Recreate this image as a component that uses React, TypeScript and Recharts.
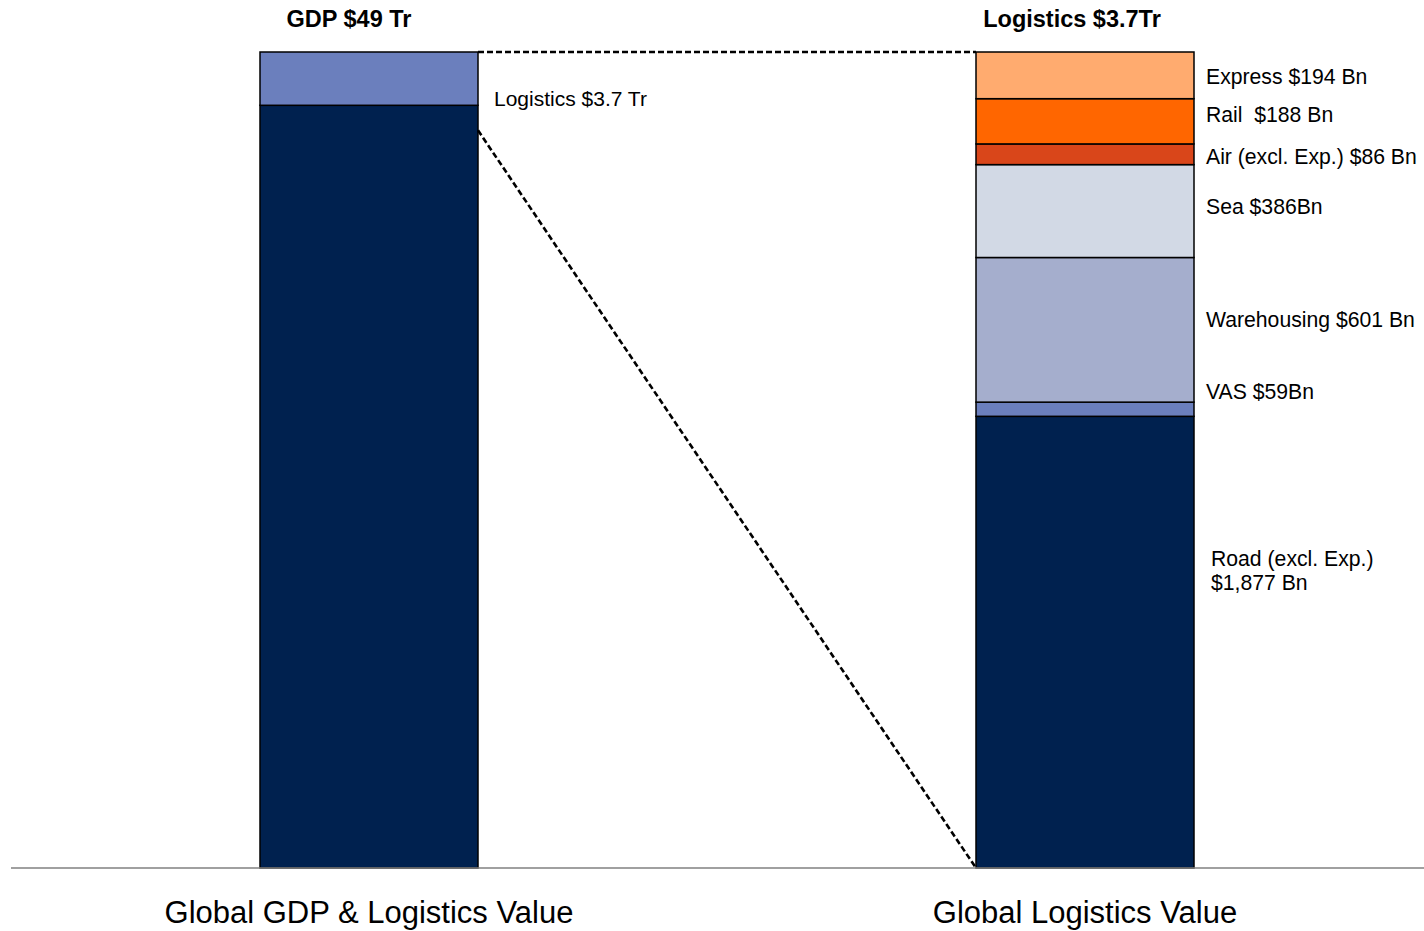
import { BarChart, Bar, XAxis, YAxis } from "recharts";

const CATEGORIES = ["Global GDP & Logistics Value", "Global Logistics Value"];

// left bar in $ Tr, split as drawn in the picture
const GDP_KEYS = ["gdpRest", "gdpLogistics"];
const GDP_VALUES = [45.8, 3.2];

// right bar in $ Bn, bottom to top
const LOGISTICS_KEYS = ["road", "vas", "warehousing", "sea", "air", "rail", "express"];
const LOGISTICS_VALUES = [1877, 59, 601, 386, 86, 188, 194];
const LOGISTICS_LABELS = [
    ["Road (excl. Exp.)", "$1,877 Bn"],
    ["VAS $59Bn"],
    ["Warehousing $601 Bn"],
    ["Sea $386Bn"],
    ["Air (excl. Exp.) $86 Bn"],
    ["Rail  $188 Bn"],
    ["Express $194 Bn"],
];

const TITLES = ["GDP $49 Tr", "Logistics $3.7Tr"];
const GDP_LOGISTICS_LABEL = "Logistics $3.7 Tr";

const COLORS: Record<string, string> = {
    gdpRest: "#00214f",
    gdpLogistics: "#6b7fbd",
    road: "#00214f",
    vas: "#6b7fbd",
    warehousing: "#a5aecd",
    sea: "#d2d9e5",
    air: "#d9461a",
    rail: "#ff6600",
    express: "#ffab6f",
};

// label offsets from segment centre
const LABEL_DY: Record<string, number> = {
    road: -84,
    vas: -18,
    warehousing: -10,
    sea: -5,
    air: 2,
    rail: -7,
    express: 1,
};

const FONT = "Arial, 'Liberation Sans', sans-serif";

const rows = CATEGORIES.map((name, i) => {
    const row: Record<string, string | number> = { name };
    GDP_KEYS.forEach((k, j) => (row[k] = i === 0 ? GDP_VALUES[j] : 0));
    LOGISTICS_KEYS.forEach((k, j) => (row[k] = i === 1 ? LOGISTICS_VALUES[j] : 0));
    return row;
});

// segment boxes of the current render, filled in as the bars draw
const geo: Record<string, { x: number; y: number; w: number; h: number }> = {};

const makeShape = (key: string) => (p: any) => {
    const { x, y, width, height } = p;
    if (!(height > 0.5)) return <g />;
    geo[key] = { x, y, w: width, h: height };
    const cy = y + height / 2;
    const out: any[] = [
        <rect
            key="r"
            x={x}
            y={y}
            width={width}
            height={height}
            fill={COLORS[key]}
            stroke="#000"
            strokeWidth={1.5}
        />,
    ];

    if (key === "gdpLogistics") {
        out.push(
            <text key="l" x={x + width + 16} y={cy + 20} dominantBaseline="central" fontSize={21} fontFamily={FONT} fill="#000">
                {GDP_LOGISTICS_LABEL}
            </text>,
            <text key="t" x={x + width / 2 - 20} y={y - 33} dominantBaseline="central" textAnchor="middle" fontSize={23.5} fontWeight="bold" fontFamily={FONT} fill="#000">
                {TITLES[0]}
            </text>
        );
    }

    const li = LOGISTICS_KEYS.indexOf(key);
    if (li >= 0) {
        const lines = LOGISTICS_LABELS[li];
        const lx = x + width + (key === "road" ? 17 : 12);
        lines.forEach((t, n) =>
            out.push(
                <text key={"s" + n} x={lx} y={cy + LABEL_DY[key] + n * 24} dominantBaseline="central" fontSize={21.2} fontFamily={FONT} fill="#000" style={{ whiteSpace: "pre" }}>
                    {t}
                </text>
            )
        );
    }

    if (key === "express") {
        out.push(
            <text key="t" x={x + width / 2 - 13} y={y - 33} dominantBaseline="central" textAnchor="middle" fontSize={23.5} fontWeight="bold" fontFamily={FONT} fill="#000">
                {TITLES[1]}
            </text>
        );
        const gl = geo.gdpLogistics;
        const road = geo.road;
        if (gl && road) {
            out.push(
                <line key="d1" x1={gl.x + gl.w} y1={gl.y} x2={x} y2={y} stroke="#000" strokeWidth={2.6} strokeDasharray="6 3" />,
                <line key="d2" x1={gl.x + gl.w} y1={gl.y + gl.h + 25} x2={x} y2={road.y + road.h} stroke="#000" strokeWidth={2.6} strokeDasharray="6 3" />
            );
        }
    }
    return <g>{out}</g>;
};

const CategoryTick = (p: any) => (
    <text x={p.x} y={p.y} dy={47} textAnchor="middle" fontSize={31} fontFamily={FONT} fill="#000">
        {p.payload.value}
    </text>
);

const App = () => {
    return (
        <div style={{ position: "absolute", left: 0, top: 0, width: 1424, height: 931, overflow: "hidden" }}>
            <BarChart
                width={1450}
                height={931}
                data={rows}
                stackOffset="expand"
                barSize={218}
                margin={{ top: 52, right: 7, left: 11, bottom: 3 }}
            >
                <XAxis
                    dataKey="name"
                    axisLine={{ stroke: "#808080", strokeWidth: 1.5 }}
                    tickLine={false}
                    interval={0}
                    height={60}
                    tick={<CategoryTick />}
                />
                <YAxis hide />
                {GDP_KEYS.map((k) => (
                    <Bar key={k} dataKey={k} stackId="a" fill={COLORS[k]} shape={makeShape(k)} isAnimationActive={false} />
                ))}
                {LOGISTICS_KEYS.map((k) => (
                    <Bar key={k} dataKey={k} stackId="a" fill={COLORS[k]} shape={makeShape(k)} isAnimationActive={false} />
                ))}
            </BarChart>
        </div>
    );
};

export default App;
